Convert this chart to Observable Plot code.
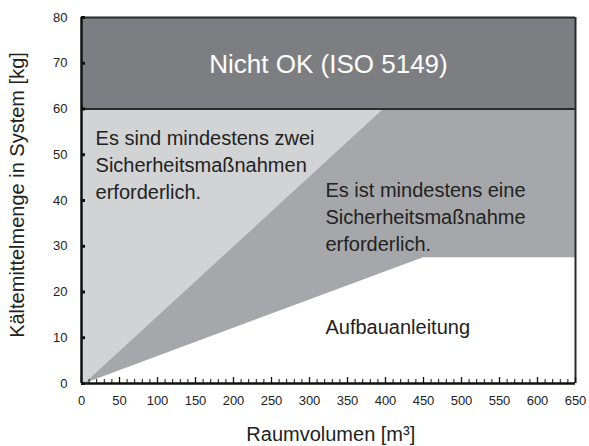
<!DOCTYPE html>
<html>
<head>
<meta charset="utf-8">
<script src="https://cdn.jsdelivr.net/npm/d3@7"></script>
<script src="https://cdn.jsdelivr.net/npm/@observablehq/plot@0.6"></script>
<style>
  body { margin: 0; background: #fff; }
</style>
</head>
<body>
<div id="chart"></div>
<script>
// ---- data ----
const xDomain = [0, 650];
const yDomain = [0, 80];
const xMajorTicks = [0, 50, 100, 150, 200, 250, 300, 350, 400, 450, 500, 550, 600, 650];
const xMinorTicks = d3.range(0, 651, 10);
const yTicks = [0, 10, 20, 30, 40, 50, 60, 70, 80];

// lower boundary (one safety measure required above it)
const lowerX = [0, 5, 450, 650];
const lowerY = [0, 0, 27.5, 27.5];
// boundary of "two safety measures" region
const twoMeasuresX = [5, 398];
const twoMeasuresY = [0, 60];
// ISO 5149 limit
const limitY = 60;
const maxY = 80;

const regionLabels = [
  {text: "Es sind mindestens zwei\nSicherheitsmaßnahmen\nerforderlich.", x: 18.5, y: 56.4},
  {text: "Es ist mindestens eine\nSicherheitsmaßnahme\nerforderlich.", x: 321, y: 44.9},
  {text: "Aufbauanleitung", x: 321, y: 15.1}
];
const topLabel = "Nicht OK (ISO 5149)";
const xTitle = "Raumvolumen [m³]";
const yTitle = "Kältemittelmenge in System [kg]";

const lower = lowerX.map((x, i) => ({x, y: lowerY[i]}));
const twoEdge = twoMeasuresX.map((x, i) => ({x, y: twoMeasuresY[i]}));

const chart = Plot.plot({
  width: 589,
  height: 446,
  marginLeft: 81,
  marginRight: 14,
  marginTop: 17,
  marginBottom: 63,
  style: {fontFamily: "'Liberation Sans', Arial, sans-serif", background: "#fff"},
  x: {domain: xDomain, axis: null},
  y: {domain: yDomain, axis: null},
  marks: [
    // medium gray: one safety measure
    Plot.areaY(lower, {x: "x", y1: "y", y2: limitY, fill: "#a6a7aa", curve: "linear"}),
    // light gray: two safety measures
    Plot.areaX(twoEdge, {y: "y", x1: 0, x2: "x", fill: "#d2d3d5", curve: "linear"}),
    // dark gray: not OK
    Plot.areaY([{x: xDomain[0]}, {x: xDomain[1]}], {x: "x", y1: limitY, y2: maxY, fill: "#7d7e82"}),
    // borders
    Plot.ruleY([limitY], {stroke: "#2a2a2a", strokeWidth: 2}),
    Plot.ruleY([maxY], {stroke: "#2a2a2a", strokeWidth: 2}),
    Plot.ruleX([xDomain[1]], {y1: 0, y2: maxY, stroke: "#2a2a2a", strokeWidth: 2}),
    // axis lines
    Plot.ruleY([0], {stroke: "#111", strokeWidth: 2.5}),
    Plot.ruleX([0], {y1: 0, y2: maxY, stroke: "#111", strokeWidth: 2.5}),
    // x ticks (inward)
    Plot.axisX({ticks: xMinorTicks, tickSize: -4, tickFormat: () => "", label: null, stroke: "#111", strokeWidth: 1}),
    Plot.axisX({ticks: xMajorTicks, tickSize: -6, tickFormat: () => "", label: null, stroke: "#111", strokeWidth: 1.3}),
    Plot.axisX({ticks: xMajorTicks, tickSize: 0, tickPadding: 12, label: null, fontSize: 13, fill: "#222"}),
    // y ticks (inward)
    Plot.axisY({ticks: yTicks, tickSize: -4, tickFormat: () => "", label: null, stroke: "#111", strokeWidth: 3}),
    Plot.axisY({ticks: yTicks, tickSize: 0, tickPadding: 14, label: null, fontSize: 13, fill: "#222"}),
    // region labels
    Plot.text(regionLabels, {x: "x", y: "y", text: "text", textAnchor: "start", lineAnchor: "top", lineHeight: 1.35, fontSize: 20, fill: "#222"}),
    Plot.text([topLabel], {x: 325, y: 69.6, text: d => d, textAnchor: "middle", lineAnchor: "middle", fontSize: 26, fill: "#fff"}),
    // axis titles
    Plot.text([xTitle], {x: 328, frameAnchor: "bottom", dy: 43.5, text: d => d, textAnchor: "middle", lineAnchor: "top", fontSize: 20, fill: "#222"}),
    Plot.text([yTitle], {y: 41.2, frameAnchor: "left", dx: -64.4, rotate: -90, text: d => d, textAnchor: "middle", lineAnchor: "middle", fontSize: 20, fill: "#222"})
  ]
});
document.getElementById("chart").appendChild(chart);
</script>
</body>
</html>
